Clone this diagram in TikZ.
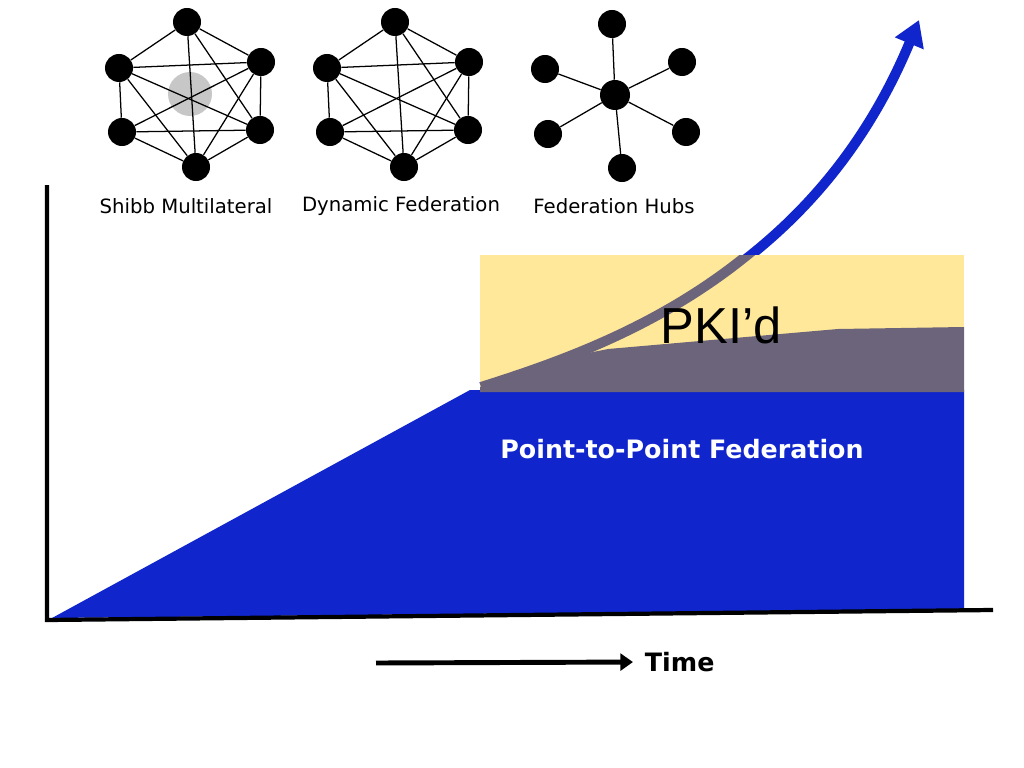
\documentclass[tikz,border=0pt]{standalone}
\usepackage{fontspec}
\setmainfont{DejaVu Sans}
\newfontfamily\arialfont{Liberation Sans}
\usetikzlibrary{calc}
\usetikzlibrary{positioning}
\usetikzlibrary{arrows.meta}
\definecolor{fedblue}{RGB}{16,38,204}
\definecolor{pkiyellow}{RGB}{255,232,153}
\definecolor{pkigrey}{RGB}{108,100,122}

\begin{document}
\begin{tikzpicture}[x=0.025cm, y=-0.025cm,
        dot/.style={circle, fill=black, inner sep=0pt, minimum size=0.7cm},
        link/.style={line width=0.9pt},
        axis/.style={line width=3pt},
        caption/.style={font=\fontsize{14}{16}\selectfont}]
    \useasboundingbox (0,0) rectangle (1024,768);
    \def\meshpts{t/187/22, ur/261/62, ul/119/68, ll/122/132, lr/260/130, b/196/167}
    \def\meshlinks{t/ul, t/ur, t/b, t/lr, ul/ur, ul/ll, ul/lr, ul/b, ur/ll, ur/lr, ur/b, ll/lr, ll/b, lr/b}
    \fill[black!22] (190,94) circle (22);
    \foreach \g/\dx in {s/0, d/208}
    {
        \foreach \n/\x/\y in \meshpts
            \node[dot] (\g\n) at (\x+\dx, \y) {};
        \foreach \a/\b in \meshlinks
            \draw[link] (\g\a) -- (\g\b);
    }
    \node[dot, minimum size=0.75cm] (hc) at (615,95) {};
    \foreach \n/\x/\y in {t/612/24, ur/682/62, ul/545/69, ll/548/134, lr/686/132, b/622/168}
    {
        \node[dot] (h\n) at (\x, \y) {};
        \draw[link] (hc) -- (h\n);
    }
    \node[caption] (scap) at (186,206) {Shibb Multilateral};
    \node[caption] (dcap) at (401,206) {Dynamic Federation};
    \node[caption] (hcap) at (614,206) {Federation Hubs};

    \coordinate (origin) at (47,620);
    \coordinate (ytop) at (47,185);
    \coordinate (xend) at (993,610);
    \coordinate (rise) at (481,387);
    \coordinate (tip) at (919,20);
    \fill[fedblue] (52,618) -- (470,390) -- (964,390) -- (964,609) -- cycle;
    \draw[fedblue, line width=0.25cm, -{Triangle[length=18pt, width=21pt]}]
        (rise) .. controls (620,343) and (815,270) .. (tip);
    \fill[pkiyellow] (480,255) rectangle (964,392);
    \fill[pkigrey] (480,392) -- (480,387) -- (558,359) -- (608,349) -- (838,329)
        -- (964,327) -- (964,392) -- cycle;
    \begin{scope}
        \clip (480,255) rectangle (964,392);
        \draw[pkigrey, line width=0.25cm] (rise) .. controls (620,343) and (815,270) .. (tip);
    \end{scope}
    \node[font=\arialfont\fontsize{36}{40}\selectfont] (pki) at (721,325) {PKI’d};
    \node[text=white, font=\bfseries\fontsize{18}{22}\selectfont] (p2p) at (682,449)
        {Point-to-Point Federation};
    \draw[axis] (ytop) -- (origin) -- (xend);

    \coordinate (t0) at (376,663);
    \node[anchor=west, font=\bfseries\fontsize{18}{22}\selectfont] (time) at (640,662) {Time};
    \draw[line width=3.5pt, -{Triangle[length=9pt, width=12pt]}, shorten >=5pt]
        (t0) -- (time.west);
\end{tikzpicture}
\end{document}
